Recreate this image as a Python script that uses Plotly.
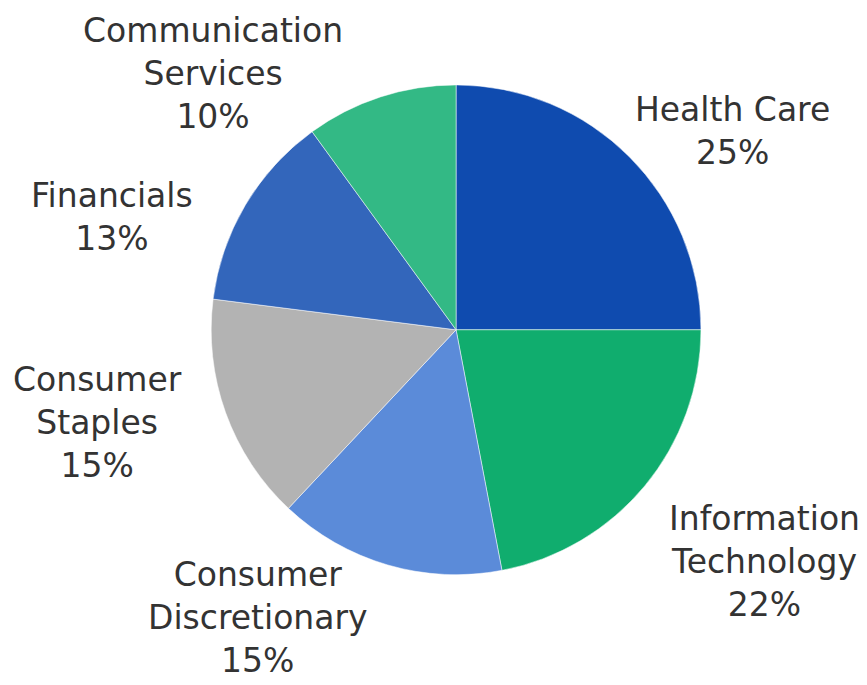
import plotly.graph_objects as go

categories = ["Health Care", "Information<br>Technology", "Consumer<br>Discretionary",
              "Consumer<br>Staples", "Financials", "Communication<br>Services"]
values = [25, 22, 15, 15, 13, 10]
colors = ["#0F4BAF", "#10AD6E", "#5B8BD9", "#B3B3B3", "#3366BB", "#33B985"]

# label anchor positions (paper coordinates) - layout only
label_x = [0.8356, 0.8731, 0.2878, 0.1038, 0.1205, 0.2364]
label_y = [0.8204, 0.1927, 0.1100, 0.3942, 0.6956, 0.9051]

FONT = "DejaVu Sans, sans-serif"

fig = go.Figure(go.Pie(
    labels=categories,
    values=values,
    sort=False,
    direction="clockwise",
    rotation=0,
    marker=dict(colors=colors, line=dict(color="white", width=0.5)),
    textinfo="none",
    hoverinfo="label+percent",
    automargin=False,
    domain=dict(x=[0.2338, 0.7998], y=[0.1727, 0.8877]),
    showlegend=False,
))

annotations = []
for cat, val, lx, ly in zip(categories, values, label_x, label_y):
    annotations.append(dict(
        x=lx, y=ly, xref="paper", yref="paper",
        text=f"{cat}<br>{val}%",
        showarrow=False, xanchor="center", yanchor="middle", align="center",
        font=dict(family=FONT, size=33, color="#333333"),
    ))

fig.update_layout(
    width=867, height=685,
    margin=dict(l=0, r=0, t=0, b=0, pad=0, autoexpand=False),
    paper_bgcolor="white",
    plot_bgcolor="white",
    annotations=annotations,
)

fig.write_html("out.html")
